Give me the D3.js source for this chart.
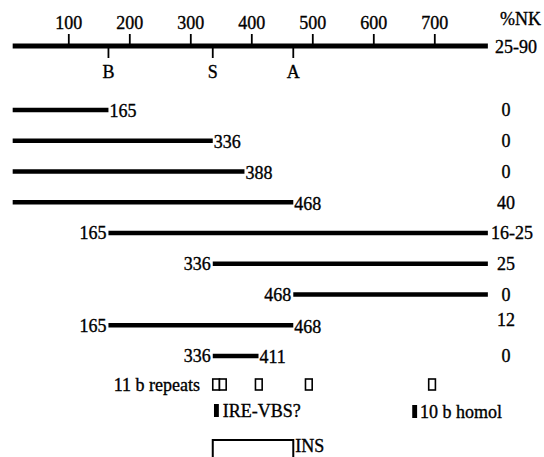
<!DOCTYPE html>
<html>
<head>
<meta charset="utf-8">
<script src="https://cdn.jsdelivr.net/npm/d3@7"></script>
<style>
  body { margin: 0; background: #fff; }
  text { font-family: "Liberation Serif", "Times New Roman", serif; font-size: 18px; fill: #000;
         stroke: #000; stroke-width: 0.35px; }
</style>
</head>
<body>
<svg width="544" height="457"></svg>
<script>
// sequence map (nt positions)
var tickValues = [100, 200, 300, 400, 500, 600, 700];
var siteNames = ["B", "S", "A"];
var sitePos = [165, 336, 468];
var seqStart = 8, seqEnd = 787;
var fullNK = "25-90";

// deletion fragments, top to bottom
var fragStart = [8, 8, 8, 8, 165, 336, 468, 165, 336];
var fragEnd   = [165, 336, 388, 468, 787, 787, 787, 468, 411];
var fragNK    = ["0", "0", "0", "40", "16-25", "25", "0", "12", "0"];

// features under the map
var repeatPos = [336, 347, 406, 488, 690];
var repeatLen = 11;
var irePos = 338, homolPos = 663, featLen = 8;
var insRange = [336, 468];

var svg = d3.select("svg");

var x = d3.scaleLinear().domain([100, 700]).range([68.8, 434.8]);
var y = d3.scalePoint().domain(d3.range(fragStart.length)).range([110, 356]);

var axisY = 46;

// main line
svg.append("line")
    .attr("x1", x(seqStart)).attr("x2", x(seqEnd))
    .attr("y1", axisY).attr("y2", axisY)
    .attr("stroke", "#000").attr("stroke-width", 5);

// scale ticks above
svg.selectAll(".tk").data(tickValues).enter().append("line")
    .attr("class", "tk")
    .attr("x1", d => x(d)).attr("x2", d => x(d))
    .attr("y1", axisY - 12).attr("y2", axisY)
    .attr("stroke", "#000").attr("stroke-width", 1.8);
svg.selectAll(".tl").data(tickValues).enter().append("text")
    .attr("class", "tl")
    .attr("x", d => x(d)).attr("y", 29)
    .attr("text-anchor", "middle")
    .text(d => d);

// restriction sites below
svg.selectAll(".st").data(sitePos).enter().append("line")
    .attr("class", "st")
    .attr("x1", d => x(d)).attr("x2", d => x(d))
    .attr("y1", axisY).attr("y2", axisY + 12)
    .attr("stroke", "#000").attr("stroke-width", 1.8);
svg.selectAll(".sl").data(sitePos).enter().append("text")
    .attr("class", "sl")
    .attr("x", d => x(d)).attr("y", 78)
    .attr("text-anchor", "middle")
    .text((d, i) => siteNames[i]);

svg.append("text").attr("x", 541).attr("y", 19).attr("dy", "0.35em")
    .attr("text-anchor", "end").text("%NK");
svg.append("text").attr("x", 495).attr("y", axisY + 1).attr("dy", "0.35em")
    .text(fullNK);

// fragments
fragStart.forEach(function(s, i) {
    svg.append("line")
        .attr("x1", x(s)).attr("x2", x(fragEnd[i]))
        .attr("y1", y(i)).attr("y2", y(i))
        .attr("stroke", "#000").attr("stroke-width", 4.5);
    if (s != seqStart) {
        svg.append("text").attr("x", x(s) - 2).attr("y", y(i)).attr("dy", "0.35em")
            .attr("text-anchor", "end").text(s);
    }
    if (fragEnd[i] != seqEnd) {
        svg.append("text").attr("x", x(fragEnd[i]) + 1).attr("y", y(i) + 1).attr("dy", "0.35em")
            .text(fragEnd[i]);
    }
    var v = fragNK[i];
    svg.append("text")
        .attr("x", v.length > 2 ? 491 : 506)
        .attr("y", y(i) + (v == "12" ? -6 : 0)).attr("dy", "0.35em")
        .attr("text-anchor", v.length > 2 ? "start" : "middle")
        .text(v);
});

// 11 b repeats
svg.append("text").attr("x", 200).attr("y", 385).attr("dy", "0.35em")
    .attr("text-anchor", "end").text("11 b repeats");
svg.selectAll(".rep").data(repeatPos).enter().append("rect")
    .attr("class", "rep")
    .attr("x", d => x(d)).attr("y", 379)
    .attr("width", x(repeatLen) - x(0)).attr("height", 11)
    .attr("fill", "#fff").attr("stroke", "#000").attr("stroke-width", 1.6);

// IRE-VBS? and 10 b homol
svg.append("rect").attr("x", x(irePos)).attr("y", 404)
    .attr("width", x(featLen) - x(0)).attr("height", 13).attr("fill", "#000");
svg.append("text").attr("x", x(irePos + featLen) + 4).attr("y", 411).attr("dy", "0.35em")
    .text("IRE-VBS?");
svg.append("rect").attr("x", x(homolPos)).attr("y", 405)
    .attr("width", x(featLen) - x(0)).attr("height", 13).attr("fill", "#000");
svg.append("text").attr("x", x(homolPos + featLen) + 3).attr("y", 412).attr("dy", "0.35em")
    .text("10 b homol");

// INS
svg.append("rect").attr("x", x(insRange[0])).attr("y", 440)
    .attr("width", x(insRange[1]) - x(insRange[0])).attr("height", 30)
    .attr("fill", "#fff").attr("stroke", "#000").attr("stroke-width", 2);
svg.append("text").attr("x", x(insRange[1]) + 2).attr("y", 446).attr("dy", "0.35em")
    .text("INS");
</script>
</body>
</html>
